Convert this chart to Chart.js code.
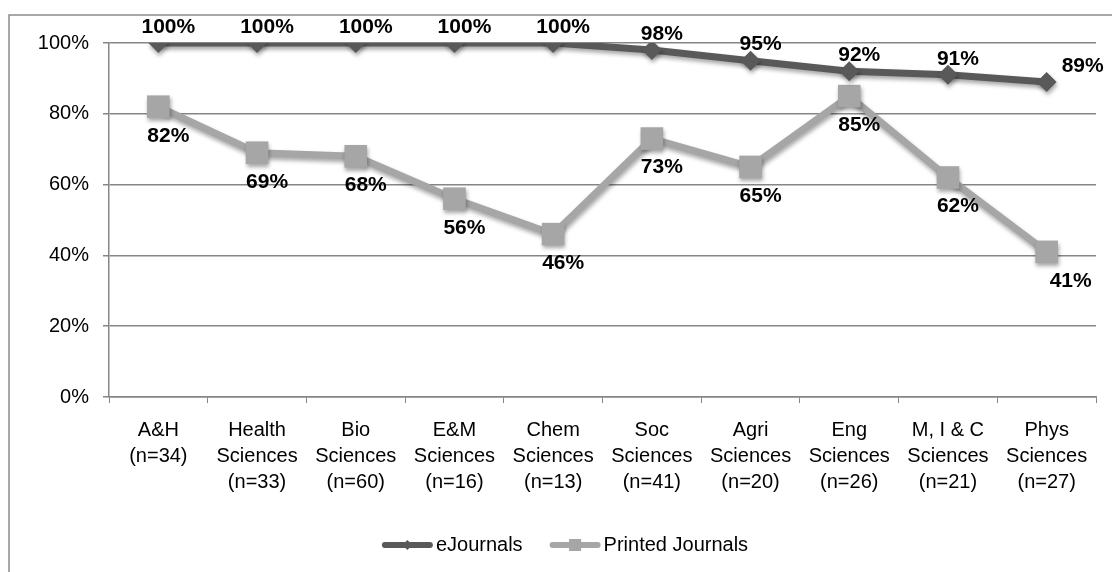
<!DOCTYPE html>
<html>
<head>
<meta charset="utf-8">
<title>eJournals vs Printed Journals</title>
<script src="https://cdn.jsdelivr.net/npm/chart.js@4"></script>
<style>
  html, body { margin: 0; padding: 0; background: #fff; }
  #wrap { width: 1112px; height: 572px; }
</style>
</head>
<body>
<div id="wrap"><canvas id="c" width="1112" height="572"></canvas></div>
<script>
// categories (multi-line labels as shown under the axis)
const categories = [
  ['A&H', '(n=34)'],
  ['Health', 'Sciences', '(n=33)'],
  ['Bio', 'Sciences', '(n=60)'],
  ['E&M', 'Sciences', '(n=16)'],
  ['Chem', 'Sciences', '(n=13)'],
  ['Soc', 'Sciences', '(n=41)'],
  ['Agri', 'Sciences', '(n=20)'],
  ['Eng', 'Sciences', '(n=26)'],
  ['M, I & C', 'Sciences', '(n=21)'],
  ['Phys', 'Sciences', '(n=27)']
];
const eJournals = [100, 100, 100, 100, 100, 98, 95, 92, 91, 89];
const printedJournals = [82, 69, 68, 56, 46, 73, 65, 85, 62, 41];
const yTicks = [0, 20, 40, 60, 80, 100];

const FONT = '"Liberation Sans", Arial, sans-serif';
const DARK = '#595959';
const LIGHT = '#a6a6a6';
const AXIS = '#868686';

// drop shadow under the lines and markers
const shadowPlugin = {
  id: 'shadow',
  beforeDatasetDraw(chart) {
    const ctx = chart.ctx;
    ctx.save();
    ctx.shadowColor = 'rgba(0,0,0,0.35)';
    ctx.shadowBlur = 4;
    ctx.shadowOffsetX = 1;
    ctx.shadowOffsetY = 3;
  },
  afterDatasetDraw(chart) {
    chart.ctx.restore();
  }
};

// value labels: eJournals above, printed below
const labelPlugin = {
  id: 'valueLabels',
  afterDatasetsDraw(chart) {
    const ctx = chart.ctx;
    ctx.save();
    ctx.font = 'bold 21px ' + FONT;
    ctx.fillStyle = '#000';
    ctx.textAlign = 'center';
    ctx.textBaseline = 'middle';
    chart.data.datasets.forEach((ds, i) => {
      const meta = chart.getDatasetMeta(i);
      meta.data.forEach((pt, j) => {
        let dx = 10;
        if (j === ds.data.length - 1) dx = i === 0 ? 36 : 24;
        const dy = i === 0 ? -16 : 29;
        ctx.fillText(ds.data[j] + '%', pt.x + dx, pt.y + dy);
      });
    });
    ctx.restore();
  }
};

// outer frame + bottom legend with line-and-marker samples
const framePlugin = {
  id: 'frame',
  beforeDraw(chart) {
    const ctx = chart.ctx;
    ctx.save();
    ctx.strokeStyle = '#8c8c8c';
    ctx.lineWidth = 1.5;
    ctx.strokeRect(9, 15, 1200, 700);
    ctx.restore();
  },
  afterDraw(chart) {
    const ctx = chart.ctx;
    ctx.save();
    ctx.font = '20px ' + FONT;
    const items = chart.data.datasets.map(ds => ({
      text: ds.label, color: ds.borderColor, style: ds.pointStyle, w: ctx.measureText(ds.label).width
    }));
    const lineW = 51, gapText = 3, gapItem = 27;
    let total = 0;
    items.forEach((it, k) => { total += lineW + gapText + it.w + (k ? gapItem : 0); });
    let x = 565 - total / 2;
    const y = 545;
    items.forEach(it => {
      ctx.strokeStyle = it.color;
      ctx.lineWidth = 6;
      ctx.lineCap = 'round';
      ctx.beginPath();
      ctx.moveTo(x + 3, y);
      ctx.lineTo(x + lineW - 3, y);
      ctx.stroke();
      ctx.fillStyle = it.color;
      const cx = x + lineW / 2;
      if (it.style === 'rectRot') {
        ctx.beginPath();
        ctx.moveTo(cx, y - 5); ctx.lineTo(cx + 5, y); ctx.lineTo(cx, y + 5); ctx.lineTo(cx - 5, y);
        ctx.closePath(); ctx.fill();
      } else {
        ctx.fillRect(cx - 6, y - 6, 12, 12);
      }
      ctx.fillStyle = '#000';
      ctx.textAlign = 'left';
      ctx.textBaseline = 'middle';
      ctx.fillText(it.text, x + lineW + gapText, y);
      x += lineW + gapText + it.w + gapItem;
    });
    ctx.restore();
  }
};

new Chart(document.getElementById('c'), {
  type: 'line',
  data: {
    labels: categories,
    datasets: [
      {
        label: 'eJournals',
        data: eJournals,
        borderColor: DARK,
        backgroundColor: DARK,
        borderWidth: 7,
        pointStyle: 'rectRot',
        pointRadius: 10,
        pointBorderWidth: 0,
        pointBackgroundColor: DARK,
        tension: 0
      },
      {
        label: 'Printed Journals',
        data: printedJournals,
        borderColor: LIGHT,
        backgroundColor: LIGHT,
        borderWidth: 7,
        pointStyle: 'rect',
        pointRadius: 16,
        pointBorderWidth: 0,
        pointBackgroundColor: LIGHT,
        tension: 0
      }
    ]
  },
  options: {
    responsive: false,
    animation: false,
    layout: { padding: { left: 0, top: 43, right: 13, bottom: 0 } },
    plugins: {
      legend: { display: false },
      tooltip: { enabled: false }
    },
    scales: {
      x: {
        offset: true,
        afterFit(scale) { scale.height = 175; },
        grid: { offset: true, drawOnChartArea: false, color: AXIS, tickLength: 6 },
        border: { color: AXIS, width: 1.5 },
        ticks: {
          color: '#000', font: { family: FONT, size: 20, lineHeight: 1.3 },
          padding: 14, maxRotation: 0, autoSkip: false
        }
      },
      y: {
        min: 0, max: 100,
        afterFit(scale) { scale.width = 109; },
        afterBuildTicks(scale) { scale.ticks = yTicks.map(v => ({ value: v })); },
        grid: { color: AXIS, lineWidth: 1.5, tickLength: 6 },
        border: { color: AXIS, width: 1.5 },
        ticks: {
          color: '#000', font: { family: FONT, size: 20 }, padding: 14,
          callback: v => v + '%'
        }
      }
    }
  },
  plugins: [shadowPlugin, labelPlugin, framePlugin]
});
</script>
</body>
</html>
